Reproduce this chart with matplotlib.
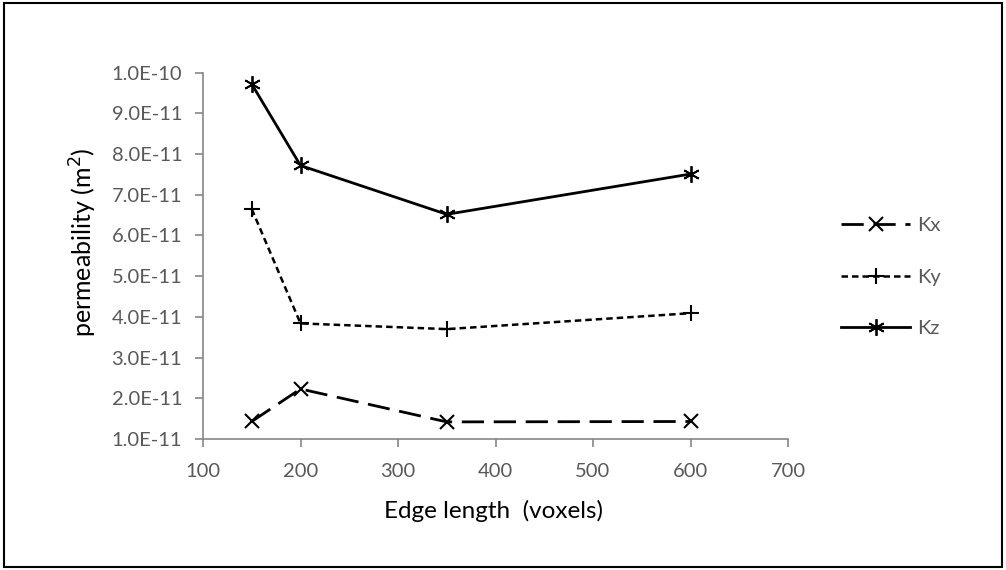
import numpy as np
import matplotlib
matplotlib.use("Agg")
import matplotlib.pyplot as plt
from matplotlib.patches import Rectangle
from matplotlib.ticker import FuncFormatter

plt.rcParams['font.family'] = ['Lato', 'DejaVu Sans']

# edge length (voxels)
edge = [150, 200, 350, 600]
# permeability (m^2)
kx = [1.43e-11, 2.23e-11, 1.42e-11, 1.43e-11]
ky = [6.65e-11, 3.84e-11, 3.70e-11, 4.09e-11]
kz = [9.72e-11, 7.72e-11, 6.52e-11, 7.51e-11]
labels = ['Kx', 'Ky', 'Kz']

xticks = [100, 200, 300, 400, 500, 600, 700]
yticks = np.arange(1, 11) * 1e-11

fig = plt.figure(figsize=(10.06, 5.70), dpi=100)
ax = fig.add_axes([203/1006, 1 - 439/570, 585/1006, 366.3/570])

# border around the whole chart
fig.patches.append(Rectangle((0.004, 0.005), 0.992, 0.99, transform=fig.transFigure,
                             fill=False, edgecolor='black', linewidth=1.5))

star = (6, 2, 0)
ax.plot(edge, kx, color='black', lw=2.0, dashes=(8, 3.5), marker='x', ms=10, mew=1.5,
        label=labels[0])
ax.plot(edge, ky, color='black', lw=1.8, dashes=(2.6, 1.6), marker='+', ms=12, mew=1.5,
        label=labels[1])
ax.plot(edge, kz, color='black', lw=2.0, marker=star, ms=12, mew=1.3,
        label=labels[2])

ax.set_xlim(100, 700)
ax.set_ylim(1e-11, 1e-10)
ax.set_xticks(xticks)
ax.set_yticks(yticks)
ax.yaxis.set_major_formatter(FuncFormatter(lambda v, p: f'{v:.1E}'))

for s in ['top', 'right']:
    ax.spines[s].set_visible(False)
for s in ['left', 'bottom']:
    ax.spines[s].set_color('#868686')
    ax.spines[s].set_linewidth(1.2)
ax.tick_params(axis='both', colors='#868686', labelcolor='#595959', labelsize=14.5,
               length=6, width=1.2, direction='out')
ax.tick_params(axis='y', pad=9)
ax.tick_params(axis='x', pad=11)

ax.set_ylabel('permeability (m$^2$)', fontsize=18, color='black')
ax.yaxis.set_label_coords(-0.178, 0.538)
ax.set_xlabel('Edge length  (voxels)', fontsize=17.5, color='black')
ax.xaxis.set_label_coords(0.497, -0.167)

ax.legend(loc='center left', bbox_to_anchor=(841/1006, 1 - 277/570),
          bbox_transform=fig.transFigure, frameon=False, fontsize=14.5,
          handlelength=3.43, handletextpad=0.35, labelspacing=1.7,
          borderpad=0, borderaxespad=0, numpoints=1, labelcolor='#595959')

fig.savefig('out.png', dpi=100)
